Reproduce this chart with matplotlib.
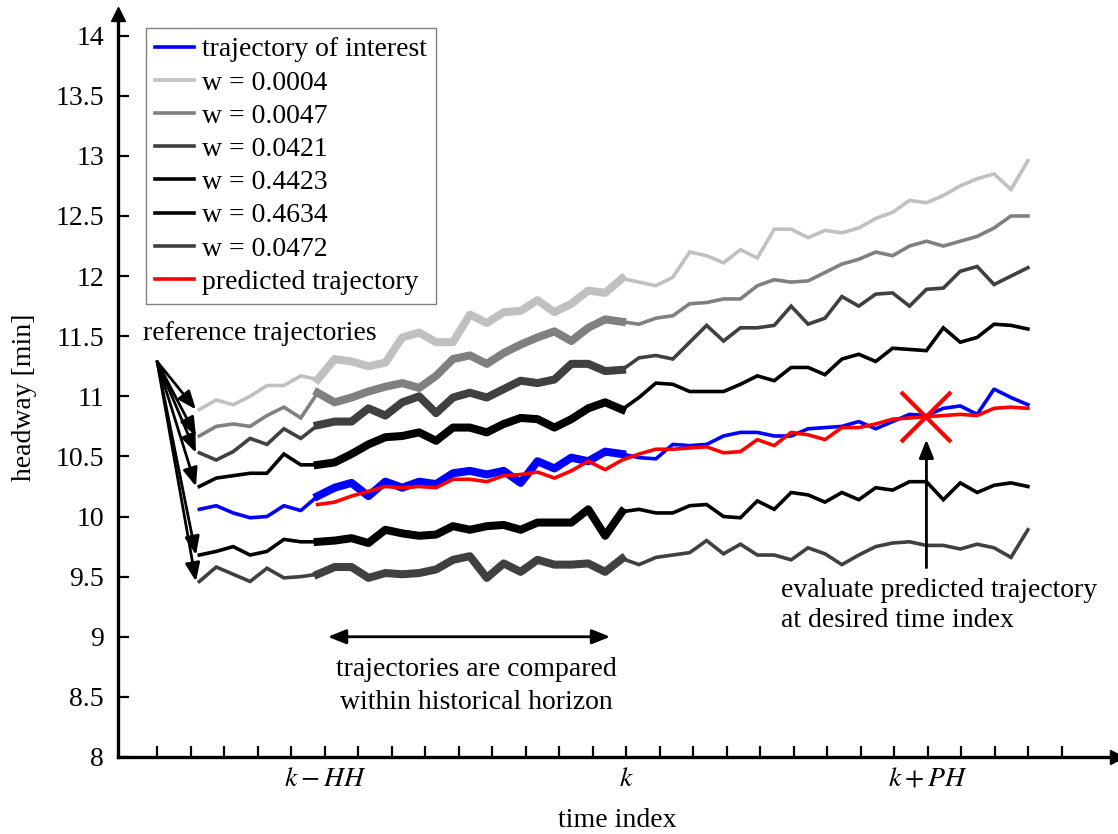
import numpy as np
import matplotlib.pyplot as plt
from matplotlib.ticker import FormatStrFormatter

plt.rcParams['font.family'] = ['Liberation Serif', 'DejaVu Serif']
plt.rcParams['mathtext.fontset'] = 'stix'

# time steps of the trajectories (index 7 = k-HH, 25 = k, 43 = k+PH)
step = np.arange(50)
hh_start, k_now, k_pred = 7, 25, 43

ref_0004 = [10.89, 10.97, 10.93, 11.00, 11.09, 11.09, 11.17, 11.14, 11.31, 11.29,
            11.25, 11.28, 11.49, 11.53, 11.45, 11.45, 11.68, 11.61, 11.70, 11.71,
            11.80, 11.70, 11.77, 11.88, 11.86, 11.98, 11.95, 11.92, 11.99, 12.20,
            12.17, 12.11, 12.22, 12.15, 12.39, 12.39, 12.32, 12.38, 12.36, 12.40,
            12.48, 12.53, 12.63, 12.61, 12.67, 12.75, 12.81, 12.85, 12.72, 12.96]
ref_0047 = [10.67, 10.75, 10.77, 10.75, 10.84, 10.91, 10.82, 11.03, 10.95, 10.99,
            11.04, 11.08, 11.11, 11.07, 11.17, 11.31, 11.34, 11.27, 11.36, 11.43,
            11.49, 11.54, 11.46, 11.57, 11.64, 11.62, 11.60, 11.65, 11.67, 11.77,
            11.78, 11.81, 11.81, 11.92, 11.97, 11.95, 11.96, 12.03, 12.10, 12.14,
            12.20, 12.17, 12.25, 12.29, 12.25, 12.29, 12.33, 12.40, 12.50, 12.50]
ref_0421 = [10.53, 10.47, 10.54, 10.65, 10.60, 10.73, 10.65, 10.76, 10.79, 10.79,
            10.90, 10.84, 10.95, 11.00, 10.86, 10.99, 11.03, 10.99, 11.06, 11.13,
            11.11, 11.14, 11.27, 11.27, 11.21, 11.22, 11.32, 11.34, 11.31, 11.45,
            11.59, 11.46, 11.57, 11.57, 11.59, 11.75, 11.60, 11.65, 11.83, 11.75,
            11.85, 11.86, 11.75, 11.89, 11.90, 12.04, 12.08, 11.93, 12.00, 12.07]
ref_4423 = [10.25, 10.32, 10.34, 10.36, 10.36, 10.52, 10.43, 10.43, 10.45, 10.52,
            10.60, 10.66, 10.67, 10.70, 10.63, 10.74, 10.74, 10.70, 10.77, 10.82,
            10.81, 10.74, 10.81, 10.90, 10.95, 10.89, 10.99, 11.11, 11.10, 11.04,
            11.04, 11.04, 11.10, 11.17, 11.13, 11.24, 11.24, 11.18, 11.31, 11.35,
            11.29, 11.40, 11.39, 11.38, 11.57, 11.45, 11.49, 11.60, 11.59, 11.56]
ref_4634 = [9.68, 9.71, 9.75, 9.68, 9.71, 9.81, 9.79, 9.79, 9.80, 9.82,
            9.78, 9.89, 9.86, 9.84, 9.85, 9.92, 9.89, 9.92, 9.93, 9.89,
            9.95, 9.95, 9.95, 10.06, 9.84, 10.04, 10.06, 10.03, 10.03, 10.09,
            10.10, 10.00, 9.99, 10.13, 10.06, 10.20, 10.18, 10.12, 10.20, 10.14,
            10.24, 10.22, 10.29, 10.29, 10.14, 10.28, 10.20, 10.26, 10.28, 10.25]
ref_0472 = [9.46, 9.58, 9.52, 9.46, 9.57, 9.49, 9.50, 9.52, 9.58, 9.58,
            9.49, 9.53, 9.52, 9.53, 9.56, 9.64, 9.67, 9.49, 9.61, 9.54,
            9.64, 9.60, 9.60, 9.61, 9.54, 9.65, 9.60, 9.66, 9.68, 9.70,
            9.80, 9.69, 9.77, 9.68, 9.68, 9.64, 9.74, 9.69, 9.60, 9.68,
            9.75, 9.78, 9.79, 9.76, 9.76, 9.73, 9.77, 9.74, 9.66, 9.89]
interest = [10.06, 10.09, 10.03, 9.99, 10.00, 10.09, 10.05, 10.17, 10.24, 10.28,
            10.17, 10.29, 10.24, 10.29, 10.27, 10.36, 10.38, 10.35, 10.38, 10.28,
            10.46, 10.40, 10.49, 10.46, 10.54, 10.52, 10.49, 10.48, 10.60, 10.59,
            10.60, 10.67, 10.70, 10.70, 10.67, 10.67, 10.73, 10.74, 10.75, 10.79,
            10.73, 10.79, 10.85, 10.84, 10.90, 10.92, 10.85, 11.06, 10.99, 10.93]
# predicted trajectory starts at k-HH
predicted = [10.10, 10.12, 10.17, 10.21, 10.25, 10.24, 10.25, 10.24, 10.31, 10.31,
             10.29, 10.34, 10.35, 10.37, 10.32, 10.38, 10.46, 10.39, 10.47, 10.52,
             10.56, 10.56, 10.57, 10.58, 10.53, 10.54, 10.64, 10.59, 10.70, 10.68,
             10.64, 10.74, 10.74, 10.77, 10.81, 10.82, 10.83, 10.84, 10.85, 10.84,
             10.90, 10.91, 10.90]

references = [ref_0004, ref_0047, ref_0421, ref_4423, ref_4634, ref_0472]
ref_labels = ['w = 0.0004', 'w = 0.0047', 'w = 0.0421', 'w = 0.4423', 'w = 0.4634', 'w = 0.0472']
ref_colors = ['#c0c0c0', '#808080', '#404040', '#000000', '#000000', '#404040']

tick_pos = np.linspace(-2.48, 51.0, 28)
tick_text = {5: '$k-HH$', 14: '$k$', 23: '$k+PH$'}

thin, thick = 2.6, 5.8

fig = plt.figure(figsize=(11.18, 8.34), dpi=100)
ax = fig.add_axes([118 / 1118, 77 / 834, 999 / 1118, 743 / 834])

win = slice(hh_start, k_now + 1)
ax.plot(step, interest, color='blue', lw=thin, label='trajectory of interest', zorder=3)
ax.plot(step[win], np.array(interest)[win], color='blue', lw=thick, zorder=3)
for vals, lab, col in zip(references, ref_labels, ref_colors):
    ax.plot(step, vals, color=col, lw=thin, label=lab, solid_joinstyle='miter')
    ax.plot(step[win], np.array(vals)[win], color=col, lw=thick)
ax.plot(step[hh_start:], predicted, color='red', lw=thin, label='predicted trajectory', zorder=4)

# marker at predicted time index
ax.plot(step[k_pred], predicted[k_pred - hh_start], marker='x', color='red',
        markersize=36, markeredgewidth=3.0, zorder=5)

arrow_kw = dict(arrowstyle='-|>,head_length=0.55,head_width=0.22', color='black',
                lw=2, shrinkA=0, shrinkB=0, mutation_scale=20)

# reference trajectories arrows
for vals in references:
    ax.annotate('', xy=(step[0] - 0.2, vals[0]), xytext=(-2.5, 11.29), arrowprops=arrow_kw)
ax.text(3.6, 11.52, 'reference trajectories', fontsize=20, ha='center', va='center')

# historical horizon
ax.annotate('', xy=(7.6, 9.0), xytext=(24.3, 9.0),
            arrowprops=dict(arrow_kw, arrowstyle='<|-|>,head_length=0.55,head_width=0.22'))
ax.text(16.36, 8.59, 'trajectories are compared\nwithin historical horizon', fontsize=20,
        ha='center', va='center', linespacing=1.45)

# evaluation arrow
ax.annotate('', xy=(step[k_pred], 10.64), xytext=(step[k_pred], 9.575), arrowprops=arrow_kw)
ax.text(34.4, 9.26, 'evaluate predicted trajectory\nat desired time index', fontsize=20,
        ha='left', va='center', linespacing=1.3)

ax.set_xlim(-4.81, 54.27)
ax.set_ylim(8, 14.18)
ax.set_yticks(np.arange(8, 14.01, 0.5))
ax.yaxis.set_major_formatter(FormatStrFormatter('%g'))
ax.set_xticks(tick_pos)
ax.set_xticklabels([tick_text.get(i, '') for i in range(len(tick_pos))])
ax.tick_params(direction='in', length=8, width=1.6, labelsize=20)
ax.tick_params(axis='y', pad=10)
ax.tick_params(axis='x', pad=7)

for s in ['top', 'right']:
    ax.spines[s].set_visible(False)
for s in ['left', 'bottom']:
    ax.spines[s].set_linewidth(2.4)
ax.plot(1, 0, '>k', markersize=10, transform=ax.transAxes, clip_on=False)
ax.plot(0, 1, '^k', markersize=10, transform=ax.transAxes, clip_on=False)

ax.text(-0.094, 0.4845, 'headway [min]', fontsize=20, rotation=90, ha='center', va='center',
        transform=ax.transAxes)
ax.text(0.4995, -0.085, 'time index', fontsize=20, ha='center', va='center',
        transform=ax.transAxes)

leg = ax.legend(loc='upper left', bbox_to_anchor=(146 / 1118, 1 - 28 / 834),
                bbox_transform=fig.transFigure, fontsize=20, frameon=True, fancybox=False,
                borderaxespad=0, borderpad=0.32, labelspacing=0.28, handlelength=1.4,
                handletextpad=0.3)
leg.get_frame().set_edgecolor('#606060')
leg.get_frame().set_linewidth(1.0)

fig.savefig('out.png', dpi=100)
